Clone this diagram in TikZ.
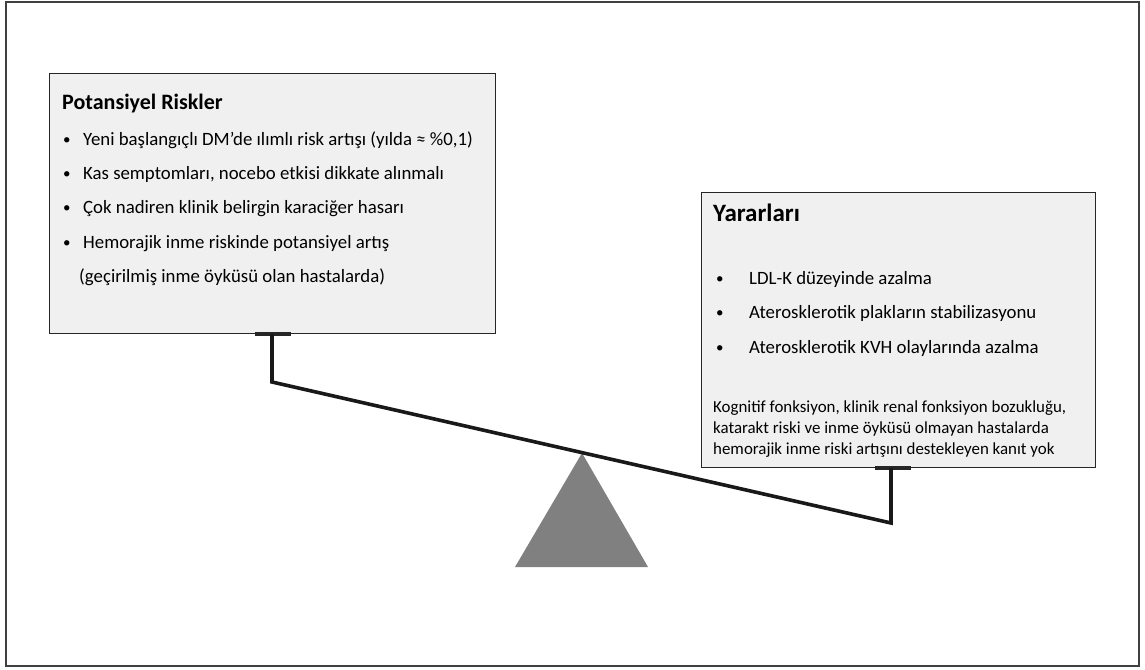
\documentclass[tikz,border=0pt]{standalone}
\usepackage{fontspec}
\setmainfont{Carlito}
\usetikzlibrary{positioning}

\newcommand{\itm}[2]{\makebox[#1][l]{\fontsize{15}{15}\selectfont\raisebox{1pt}{•}}#2}

\tikzset{
	panel/.style={draw=black!85, line width=1.1pt, fill=black!6, anchor=north west, inner sep=0pt},
	heading/.style={anchor=base west, inner sep=0pt, font=\fontsize{22}{26}\selectfont\bfseries},
	item/.style={anchor=base west, inner sep=0pt, font=\fontsize{18.8}{22}\selectfont},
	note/.style={anchor=base west, inner sep=0pt, align=left, font=\fontsize{16.9}{21}\selectfont},
	beam/.style={draw=black!90, line width=3.6pt, line join=miter},
	foot/.style={draw=black!85, line width=3.5pt}
}

\begin{document}
\begin{tikzpicture}[x=1pt,y=-1pt]
	\useasboundingbox (0,0) rectangle (1145,669);
	\draw[black!75, line width=1.6pt] (6,2) rectangle (1139,666);

	% left panel
	\node[panel, minimum width=446pt, minimum height=260pt] (riskbox) at (49,73) {};
	\node[heading] (risktitle) at (62,109) {Potansiyel Riskler};
	\node[item] (r1) at (63,145) {\itm{20pt}{Yeni başlangıçlı DM’de ılımlı risk artışı (yılda ≈ \%0,1)}};
	\node[item] (r2) at (63,179) {\itm{20pt}{Kas semptomları, nocebo etkisi dikkate alınmalı}};
	\node[item] (r3) at (63,213.5) {\itm{20pt}{Çok nadiren klinik belirgin karaciğer hasarı}};
	\node[item] (r4) at (63,248) {\itm{20pt}{Hemorajik inme riskinde potansiyel artış}};
	\node[item] (r5) at (79,282) {(geçirilmiş inme öyküsü olan hastalarda)};

	% right panel
	\node[panel, minimum width=394pt, minimum height=275pt] (benefitbox) at (701,192) {};
	\node[heading, font=\fontsize{25}{29}\selectfont\bfseries] (bentitle) at (713,221) {Yararları};
	\node[item] (b1) at (716,284) {\itm{33pt}{LDL-K düzeyinde azalma}};
	\node[item] (b2) at (716,318.5) {\itm{33pt}{Aterosklerotik plakların stabilizasyonu}};
	\node[item] (b3) at (716,353) {\itm{33pt}{Aterosklerotik KVH olaylarında azalma}};
	\node[note] (bnote) at (713,454) {Kognitif fonksiyon, klinik renal fonksiyon bozukluğu,\\
		katarakt riski ve inme öyküsü olmayan hastalarda\\
		hemorajik inme riski artışını destekleyen kanıt yok};

	% seesaw
	\coordinate (lcorner) at (272,382);
	\coordinate (rcorner) at (891,523);
	\coordinate (pivot) at (582,453);
	\fill[black!50] (pivot) -- (648,567) -- (515,567) -- cycle;

	\draw[foot] ([xshift=-17pt]riskbox.south -| lcorner) -- ([xshift=19pt]riskbox.south -| lcorner);
	\draw[foot] ([xshift=-16pt]benefitbox.south -| rcorner) -- ([xshift=20pt]benefitbox.south -| rcorner);
	\draw[beam] (riskbox.south -| lcorner) -- (lcorner) -- (rcorner) -- (benefitbox.south -| rcorner);
\end{tikzpicture}
\end{document}
